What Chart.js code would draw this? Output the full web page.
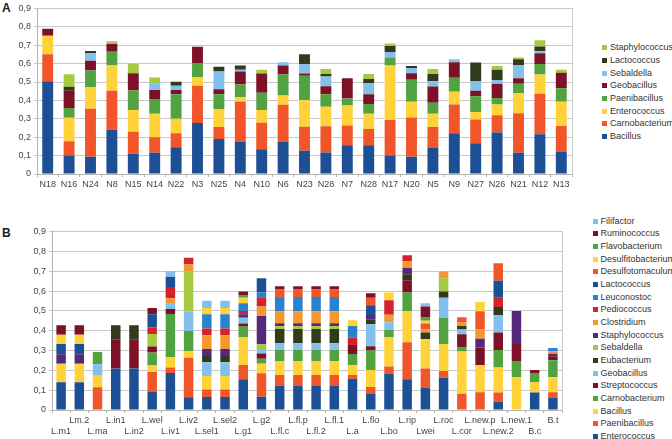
<!DOCTYPE html>
<html>
<head>
<meta charset="utf-8">
<script src="https://cdn.jsdelivr.net/npm/chart.js@4.4.1/dist/chart.umd.min.js"></script>
<style>
    body { margin: 0; background: #fff; width: 672px; height: 439px; overflow: hidden; position: relative; font-family: 'Liberation Sans', Arial, sans-serif; }
    canvas { position: absolute; left: 0; }
    .tag { position: absolute; left: 2px; font-weight: bold; font-size: 12px; color: #1a1a1a; line-height: 12px; }
    .legend-item { position: absolute; font-size: 9px; color: #333; white-space: nowrap; line-height: 10px; }
    .legend-item i { position: absolute; width: 5px; height: 5px; top: 3px; }
</style>
</head>
<body>
<div class="tag" style="top:2px">A</div>
<div class="tag" style="top:227px">B</div>
<canvas id="chartA" width="580" height="197" style="top:0"></canvas>
<canvas id="chartB" width="570" height="242" style="top:197px"></canvas>
<div id="legendA"></div>
<div id="legendB"></div>
<script>
// ---- Panel A ----
const labelsA = ['N18', 'N16', 'N24', 'N8', 'N15', 'N14', 'N22', 'N3', 'N25', 'N4', 'N10', 'N6', 'N23', 'N28', 'N7', 'N28', 'N17', 'N20', 'N5', 'N9', 'N27', 'N26', 'N21', 'N12', 'N13'];
const a_Bacillus       = [.504, .10, .094, .24, .11, .115, .145, .277, .19, .177, .135, .177, .126, .117, .156, .156, .101, .094, .144, .222, .167, .225, .115, .216, .119];
const a_Carnobacterium = [.147, .078, .261, .213, .119, .085, .077, .202, .065, .217, .143, .199, .131, .142, .108, .089, .193, .213, .111, .156, .129, .094, .215, .22, .142];
const a_Enterococcus   = [.10, .128, .118, .14, .119, .128, .078, .048, .098, .023, .07, .05, .145, .106, .108, .083, .295, .085, .073, .069, .041, .059, .11, .105, .131];
const a_Paenibacillus  = [0, .053, .089, .071, .106, .08, .134, .076, .081, .071, .093, .115, .132, .069, .039, .053, .044, .12, .059, .076, .085, .035, .051, .057, .074];
const a_Geobacillus    = [.038, .094, .053, .043, .094, .048, .023, .088, .027, .069, .105, .049, .012, .043, .11, .053, 0, .036, .088, .085, .03, .078, .03, .058, .084];
const a_Sebaldella     = [0, 0, .041, 0, 0, .035, .022, 0, .096, .01, 0, .018, .052, .053, 0, .059, .03, .028, .029, .016, .053, .02, .071, .011, 0];
const a_Lactococcus    = [0, .021, .012, 0, 0, 0, .023, 0, .026, .022, 0, 0, .053, .014, 0, .023, .032, .011, .039, 0, .101, .056, .032, .026, 0];
const a_Staphylococcus = [0, .068, 0, .014, .051, .034, 0, 0, 0, 0, .02, 0, 0, .027, 0, .028, .014, 0, .028, 0, 0, .02, .009, .034, .016];

// ---- Panel B ----
const labelsB = ['L.m1', 'Lm.2', 'L.ma', 'L.in1', 'L.in2', 'L.wel', 'L.iv1', 'L.iv2', 'L.sel1', 'L.sel2', 'L.g1', 'L.g2', 'L.fl.c', 'L.fl.p', 'L.fl.2', 'L.fl.1', 'L.a', 'L.flo', 'L.bo', 'L.rip', 'Lwei', 'L.roc', 'L.cor', 'L.new.p', 'L.new.2', 'L.new.1', 'B.c', 'B.t'];
const b_Enterococcus       = [.14, .14, 0, .21, .21, .094, .187, .064, .066, .066, .155, .067, .121, .121, .121, .121, .158, .081, .182, .155, .113, .163, 0, 0, .042, 0, .088, .061];
const b_Paenibacillus      = [0, 0, .115, 0, 0, .098, .027, .2, .037, .037, .072, .118, .056, .056, .056, .056, .019, .035, .037, .187, .097, .034, .082, .089, .046, 0, 0, .028];
const b_Bacillus           = [.094, .094, .058, 0, 0, .032, .054, .034, .069, .069, .142, .049, .07, .07, .07, .07, .049, .086, .15, .156, .149, .136, .213, .137, .127, .165, .052, .076];
const b_Carnobacterium     = [0, 0, 0, 0, 0, .066, .217, .101, 0, 0, .055, .025, .056, .056, .056, .056, .057, .098, .035, .095, 0, .132, .021, 0, .088, .082, .047, .086];
const b_Streptococcus      = [0, 0, 0, .144, .144, .03, .025, 0, 0, 0, .012, .026, 0, 0, 0, 0, .045, .022, 0, .062, 0, 0, .066, .09, .088, .086, .015, .02];
const b_Geobacillus        = [0, 0, .058, 0, 0, 0, .03, .099, .069, .069, .03, .018, .034, .034, .034, .034, 0, .111, .039, 0, 0, .101, .024, 0, .087, 0, 0, 0];
const b_Eubacterium        = [0, 0, 0, .074, .074, 0, 0, 0, .032, .032, 0, 0, .072, .072, .072, .072, 0, .022, 0, .03, .032, .032, .018, 0, .042, 0, 0, 0];
const b_Sebaldella         = [0, 0, 0, 0, 0, .064, 0, .201, 0, 0, 0, .029, .014, .014, .014, .014, 0, 0, 0, 0, 0, .067, 0, 0, 0, 0, 0, 0];
const b_Staphylococcus     = [.047, .047, 0, 0, 0, 0, 0, 0, .035, .035, .017, .143, .015, .015, .015, .015, 0, .025, 0, .032, 0, 0, 0, .044, 0, .167, 0, .013];
const b_Clostridium        = [0, 0, 0, 0, 0, 0, .024, .035, .069, .069, 0, .047, .06, .06, .06, .06, 0, 0, .038, .034, .017, .034, .02, .047, 0, 0, 0, .012];
const b_Pediococcus        = [0, 0, 0, 0, 0, .032, .057, .034, .035, .035, .017, .047, 0, 0, 0, 0, .037, 0, .073, .03, 0, 0, 0, 0, .046, 0, 0, 0];
const b_Leuconostoc        = [0, 0, 0, 0, 0, 0, 0, 0, .071, .071, .039, .024, .073, .073, .073, .073, .059, 0, 0, 0, 0, 0, 0, 0, 0, 0, 0, .017];
const b_Lactococcus        = [.052, .052, 0, 0, 0, .067, .052, 0, 0, 0, 0, .072, 0, 0, 0, 0, 0, .049, 0, 0, 0, 0, 0, 0, .086, 0, 0, 0];
const b_Desulfotomaculum   = [0, 0, 0, 0, 0, 0, 0, 0, 0, 0, 0, 0, .037, .037, .037, .037, 0, .038, 0, 0, .028, 0, .024, .091, .089, 0, 0, 0];
const b_Desulfitobacterium = [.047, .047, 0, 0, 0, 0, 0, 0, .032, .032, .028, 0, 0, 0, 0, 0, .029, 0, .039, 0, .014, 0, 0, .047, 0, 0, 0, 0];
const b_Flavobacterium     = [0, 0, .062, 0, 0, 0, 0, 0, 0, 0, .014, 0, 0, 0, 0, 0, 0, 0, 0, 0, .02, 0, 0, 0, 0, 0, 0, 0];
const b_Ruminococcus       = [.048, .048, 0, 0, 0, .032, 0, 0, 0, 0, .017, 0, .017, .017, .017, .017, 0, .022, 0, 0, .052, 0, 0, 0, 0, 0, 0, 0];
const b_Filifactor         = [0, 0, 0, 0, 0, 0, .029, 0, .036, .036, 0, 0, 0, 0, 0, 0, 0, 0, 0, 0, .017, 0, 0, 0, 0, 0, 0, 0];

// office-style palette, cycles after 12
const palette = ['#1c4f94', '#f0562a', '#ffd23a', '#53a242', '#7c1128', '#84c0ec', '#2f3b1a', '#a5c943', '#55287e', '#f5962f', '#d2232a', '#2b82cc'];

Chart.defaults.font.family = "'Liberation Sans', Arial, sans-serif";
Chart.defaults.font.size = 9;
Chart.defaults.color = '#444';

function fmtTick(v) {
    return v === 0 ? '0' : v.toFixed(1).replace('.', ',');
}

function makeDatasets(names, series) {
    return names.map((n, i) => ({
        label: n,
        data: series[i],
        backgroundColor: palette[i % palette.length],
        borderWidth: 0
    }));
}

function scalesFor(yWidth, xHeight, labels, xCallback) {
    const xTicks = { autoSkip: false, maxRotation: 0, minRotation: 0, padding: 2, color: '#444' };
    xTicks.callback = xCallback || ((v, i) => labels[i]);
    return {
        x: {
            stacked: true,
            afterFit: s => { s.height = xHeight; },
            grid: { display: true, drawOnChartArea: false, tickLength: 3, color: '#b3b3b3' },
            border: { color: '#b3b3b3' },
            ticks: xTicks
        },
        y: {
            stacked: true,
            min: 0,
            max: 0.9,
            afterFit: s => { s.width = yWidth; },
            grid: { color: '#c9c9c9', tickLength: 3 },
            border: { color: '#b3b3b3' },
            ticks: { stepSize: 0.1, padding: 3, color: '#444', callback: v => fmtTick(v) }
        },
        yR: {
            position: 'right',
            afterFit: s => { s.width = 0; },
            grid: { display: false },
            ticks: { display: false },
            border: { display: true, color: '#c9c9c9' }
        }
    };
}

function buildLegend(id, names, left, firstY, step) {
    const box = document.getElementById(id);
    // legend lists the top stack first
    for (let k = names.length - 1, row = 0; k >= 0; k--, row++) {
        const y = firstY + row * step;
        box.insertAdjacentHTML('beforeend',
            `<div class="legend-item" style="left:${left}px; top:${(y - 5).toFixed(1)}px; padding-left:8px">` +
            `<i style="left:0; background:${palette[k % palette.length]}"></i>${names[k]}</div>`);
    }
}

function initChartA() {
    const names = ['Bacillus', 'Carnobacterium', 'Enterococcus', 'Paenibacillus', 'Geobacillus', 'Sebaldella', 'Lactococcus', 'Staphylococcus'];
    const series = [a_Bacillus, a_Carnobacterium, a_Enterococcus, a_Paenibacillus, a_Geobacillus, a_Sebaldella, a_Lactococcus, a_Staphylococcus];
    const ds = makeDatasets(names, series);
    ds.forEach(d => { d.barPercentage = 0.51; d.categoryPercentage = 1; });

    new Chart(document.getElementById('chartA'), {
        type: 'bar',
        data: { labels: labelsA, datasets: ds },
        options: {
            responsive: false,
            animation: false,
            layout: { padding: { top: 4, right: 8, left: 0, bottom: 0 } },
            plugins: { legend: { display: false }, tooltip: { enabled: false } },
            scales: scalesFor(37, 23, labelsA)
        }
    });
    buildLegend('legendA', names, 602, 47.3, 12.67);
}

function initChartB() {
    const names = ['Enterococcus', 'Paenibacillus', 'Bacillus', 'Carnobacterium', 'Streptococcus', 'Geobacillus', 'Eubacterium', 'Sebaldella',
        'Staphylococcus', 'Clostridium', 'Pediococcus', 'Leuconostoc', 'Lactococcus', 'Desulfotomaculum', 'Desulfitobacterium', 'Flavobacterium',
        'Ruminococcus', 'Filifactor'];
    const series = [b_Enterococcus, b_Paenibacillus, b_Bacillus, b_Carnobacterium, b_Streptococcus, b_Geobacillus, b_Eubacterium, b_Sebaldella,
        b_Staphylococcus, b_Clostridium, b_Pediococcus, b_Leuconostoc, b_Lactococcus, b_Desulfotomaculum, b_Desulfitobacterium, b_Flavobacterium,
        b_Ruminococcus, b_Filifactor];
    const ds = makeDatasets(names, series);
    ds.forEach(d => { d.barPercentage = 0.52; d.categoryPercentage = 1; });

    // staggered labels: every other one drops to a second row
    const stagger = (v, i) => (i % 2 === 0 ? ['', labelsB[i]] : [labelsB[i]]);

    new Chart(document.getElementById('chartB'), {
        type: 'bar',
        data: { labels: labelsB, datasets: ds },
        options: {
            responsive: false,
            animation: false,
            layout: { padding: { top: 34.7, right: 8, left: 0, bottom: 0 } },
            plugins: { legend: { display: false }, tooltip: { enabled: false } },
            scales: scalesFor(52, 29, labelsB, stagger)
        }
    });
    buildLegend('legendB', names, 592.5, 220.7, 12.66);
}

initChartA();
initChartB();
</script>
</body>
</html>
